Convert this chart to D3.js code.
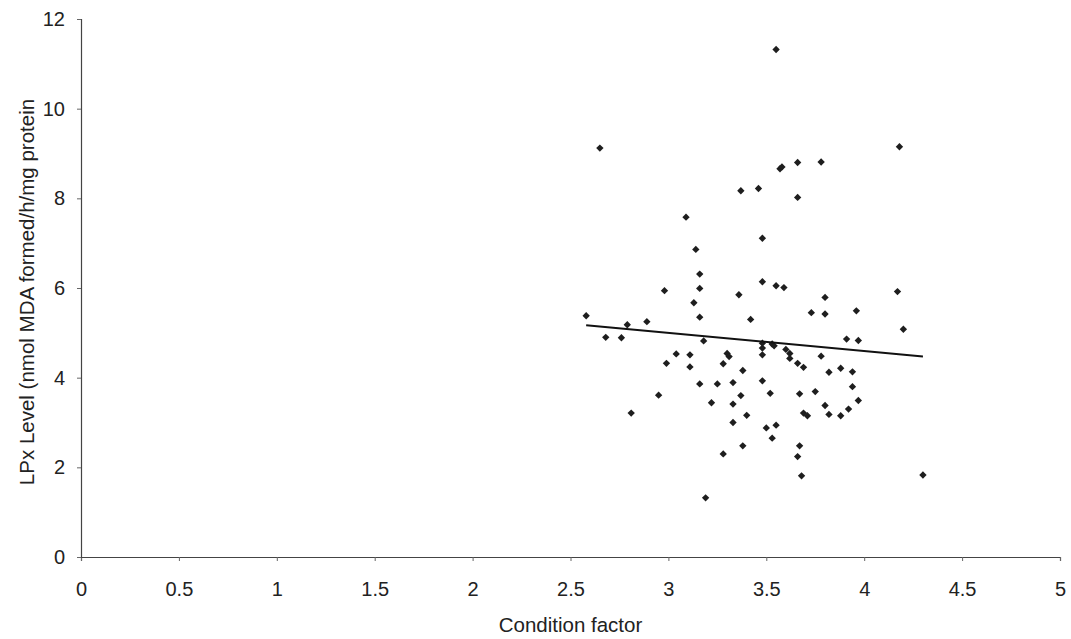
<!DOCTYPE html>
<html>
<head>
<meta charset="utf-8">
<script src="https://cdn.jsdelivr.net/npm/d3@7"></script>
<style>
  body { margin: 0; background: #fff; }
  text { font-family: "Liberation Sans", Arial, sans-serif; fill: #222; }
</style>
</head>
<body>
<svg id="chart"></svg>
<script>
const width = 1071;
const height = 639;

// Condition factor (x) and LPx level (y)
const conditionFactor = [
    2.58, 2.65, 2.68, 2.76, 2.79, 2.81, 2.89, 2.95, 2.98, 2.99,
    3.04, 3.09, 3.11, 3.11, 3.13, 3.14, 3.16, 3.16, 3.16, 3.16,
    3.18, 3.19, 3.22, 3.25, 3.28, 3.28, 3.30, 3.31, 3.33, 3.33,
    3.33, 3.36, 3.37, 3.37, 3.38, 3.38, 3.40, 3.42, 3.46, 3.48,
    3.48, 3.48, 3.48, 3.48, 3.48, 3.50, 3.52, 3.53, 3.53, 3.54,
    3.55, 3.55, 3.55, 3.57, 3.58, 3.59, 3.60, 3.62, 3.62, 3.66,
    3.66, 3.66, 3.66, 3.67, 3.67, 3.68, 3.69, 3.69, 3.71, 3.73,
    3.75, 3.78, 3.78, 3.80, 3.80, 3.80, 3.82, 3.82, 3.88, 3.88,
    3.91, 3.92, 3.94, 3.94, 3.96, 3.97, 3.97, 4.17, 4.18, 4.20,
    4.30
];
const lpxLevel = [
    5.38, 9.12, 4.90, 4.89, 5.18, 3.21, 5.25, 3.61, 5.94, 4.32,
    4.53, 7.58, 4.51, 4.24, 5.67, 6.86, 6.31, 5.99, 5.35, 3.86,
    4.82, 1.32, 3.44, 3.86, 4.31, 2.30, 4.54, 4.47, 3.89, 3.41,
    3.00, 5.85, 8.17, 3.60, 4.16, 2.48, 3.16, 5.30, 8.22, 7.11,
    6.14, 4.77, 4.66, 4.51, 3.93, 2.88, 3.65, 4.75, 2.65, 4.71,
    11.32, 6.05, 2.94, 8.66, 8.70, 6.01, 4.63, 4.54, 4.43, 8.80,
    8.02, 4.32, 2.24, 3.64, 2.48, 1.81, 4.23, 3.21, 3.15, 5.45,
    3.69, 8.81, 4.48, 5.79, 5.42, 3.38, 4.12, 3.18, 4.21, 3.15,
    4.86, 3.30, 3.80, 4.13, 5.49, 4.83, 3.49, 5.92, 9.15, 5.08,
    1.83
];

// Linear trend line (start and end)
const trendX = [2.58, 4.30];
const trendY = [5.17, 4.47];

const xTicks = [0, 0.5, 1, 1.5, 2, 2.5, 3, 3.5, 4, 4.5, 5];
const yTicks = [0, 2, 4, 6, 8, 10, 12];

const margin = { top: 19, right: 11, bottom: 82, left: 81 };

const svg = d3.select("#chart")
    .attr("width", width)
    .attr("height", height);

const x = d3.scaleLinear().domain([0, 5]).range([margin.left, width - margin.right]);
const y = d3.scaleLinear().domain([0, 12]).range([height - margin.bottom, margin.top]);

// X axis
const xAxis = svg.append("g")
    .attr("transform", `translate(0,${y(0)})`)
    .call(d3.axisBottom(x).tickValues(xTicks).tickSize(4).tickPadding(21)
        .tickFormat(d3.format("")));

// Y axis
const yAxis = svg.append("g")
    .attr("transform", `translate(${x(0)},0)`)
    .call(d3.axisLeft(y).tickValues(yTicks).tickSize(4).tickPadding(12));

[xAxis, yAxis].forEach(a => {
    a.select(".domain").attr("stroke", "#444").attr("stroke-width", 1.2);
    a.selectAll(".tick line").attr("stroke", "#666");
    a.selectAll(".tick text").attr("font-size", 20).attr("fill", "#222")
        .style("font-family", "'Liberation Sans', Arial, sans-serif");
});

// Axis titles
svg.append("text")
    .attr("x", x(2.5))
    .attr("y", 632)
    .attr("text-anchor", "middle")
    .attr("font-size", 20.5)
    .text("Condition factor");

svg.append("text")
    .attr("transform", `translate(34,${y(6) + 4}) rotate(-90)`)
    .attr("text-anchor", "middle")
    .attr("font-size", 20.5)
    .text("LPx Level (nmol MDA formed/h/mg protein");

// Points (diamonds)
const points = conditionFactor.map((c, i) => ({ c, v: lpxLevel[i] }));
svg.append("g")
    .selectAll("path")
    .data(points)
    .enter().append("path")
    .attr("d", d3.symbol(d3.symbolSquare, 27))
    .attr("transform", d => `translate(${x(d.c)},${y(d.v)}) rotate(45)`)
    .attr("fill", "#1e1e1e");

// Trend line
svg.append("line")
    .attr("x1", x(trendX[0]))
    .attr("y1", y(trendY[0]))
    .attr("x2", x(trendX[1]))
    .attr("y2", y(trendY[1]))
    .attr("stroke", "#111")
    .attr("stroke-width", 2);
</script>
</body>
</html>
